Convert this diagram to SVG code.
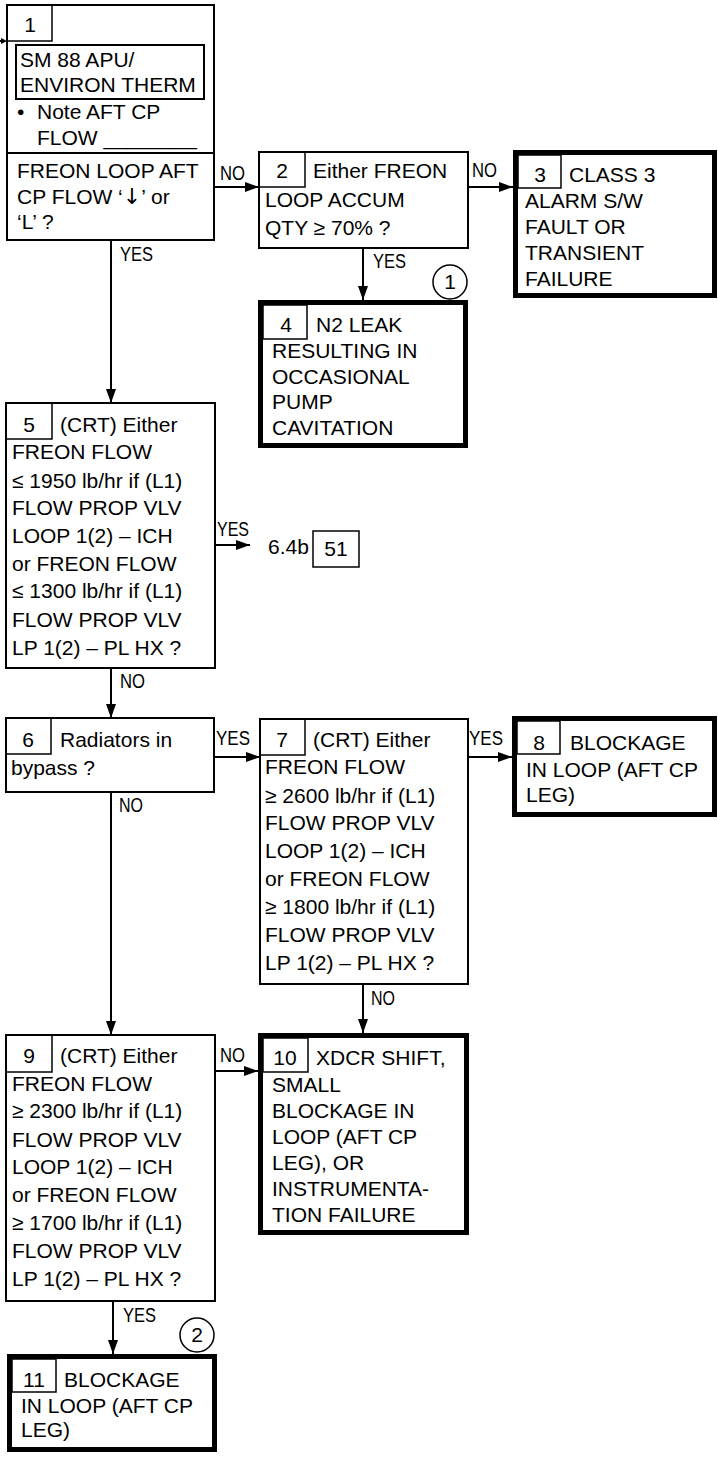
<svg xmlns="http://www.w3.org/2000/svg" width="718" height="1459" viewBox="0 0 718 1459">
<style>
text{font-family:"Liberation Sans",Arial,sans-serif;fill:#000}
.t{font-size:21px}
.n{font-size:21px;text-anchor:middle}
.lbl{font-size:20px}
.box{fill:#fff;stroke:#000;stroke-width:2}
.thick{fill:#fff;stroke:#000;stroke-width:5}
.num{fill:none;stroke:#000;stroke-width:1.5}
.con{stroke:#000;stroke-width:2;fill:none}
.circ{fill:#fff;stroke:#000;stroke-width:1.5}
</style>
<defs>
<marker id="ah" viewBox="0 0 14 10" refX="14" refY="5" markerWidth="14" markerHeight="10" markerUnits="userSpaceOnUse" orient="auto">
<path d="M0,0 L14,5 L0,10 z" fill="#000"/>
</marker>
</defs>
<rect width="718" height="1459" fill="#fff"/>

<g id="connectors">
<line class="con" x1="0" y1="41" x2="3" y2="41"/>
<path d="M1,38 L7,41 L1,44 z" fill="#000"/>
<line class="con" x1="214" y1="187" x2="259" y2="187" marker-end="url(#ah)"/>
<text class="lbl" x="220" y="180" textLength="25" lengthAdjust="spacingAndGlyphs">NO</text>
<line class="con" x1="468" y1="187" x2="513" y2="187" marker-end="url(#ah)"/>
<text class="lbl" x="472" y="177" textLength="25" lengthAdjust="spacingAndGlyphs">NO</text>
<line class="con" x1="363" y1="248" x2="363" y2="300" marker-end="url(#ah)"/>
<text class="lbl" x="373" y="268" textLength="33" lengthAdjust="spacingAndGlyphs">YES</text>
<line class="con" x1="111" y1="240" x2="111" y2="403" marker-end="url(#ah)"/>
<text class="lbl" x="120" y="261" textLength="33" lengthAdjust="spacingAndGlyphs">YES</text>
<line class="con" x1="215" y1="545" x2="250" y2="545" marker-end="url(#ah)"/>
<text class="lbl" x="217" y="536" textLength="32" lengthAdjust="spacingAndGlyphs">YES</text>
<line class="con" x1="111" y1="668" x2="111" y2="718" marker-end="url(#ah)"/>
<text class="lbl" x="120" y="688" textLength="25" lengthAdjust="spacingAndGlyphs">NO</text>
<line class="con" x1="214" y1="757" x2="260" y2="757" marker-end="url(#ah)"/>
<text class="lbl" x="216" y="745" textLength="34" lengthAdjust="spacingAndGlyphs">YES</text>
<line class="con" x1="468" y1="757" x2="512" y2="757" marker-end="url(#ah)"/>
<text class="lbl" x="469" y="745" textLength="34" lengthAdjust="spacingAndGlyphs">YES</text>
<line class="con" x1="111" y1="792" x2="111" y2="1035" marker-end="url(#ah)"/>
<text class="lbl" x="119" y="812" textLength="24" lengthAdjust="spacingAndGlyphs">NO</text>
<line class="con" x1="363" y1="984" x2="363" y2="1033" marker-end="url(#ah)"/>
<text class="lbl" x="371" y="1005" textLength="24" lengthAdjust="spacingAndGlyphs">NO</text>
<line class="con" x1="215" y1="1071" x2="258" y2="1071" marker-end="url(#ah)"/>
<text class="lbl" x="220" y="1062" textLength="25" lengthAdjust="spacingAndGlyphs">NO</text>
<line class="con" x1="113" y1="1301" x2="113" y2="1354" marker-end="url(#ah)"/>
<text class="lbl" x="123" y="1322" textLength="33" lengthAdjust="spacingAndGlyphs">YES</text>
</g>

<g id="node1">
<rect class="box" x="7" y="5" width="207" height="235"/>
<rect class="num" x="7" y="5" width="45" height="36"/>
<text class="n" x="30" y="32">1</text>
<rect class="box" x="16" y="45" width="188" height="54"/>
<text class="t" x="20" y="67">SM 88 APU/</text>
<text class="t" x="20" y="92">ENVIRON THERM</text>
<text class="t" x="17" y="119">•</text>
<text class="t" x="37" y="119">Note AFT CP</text>
<text class="t" x="37" y="145">FLOW ________</text>
<line class="con" x1="7" y1="153" x2="214" y2="153"/>
<text class="t" x="17" y="178">FREON LOOP AFT</text>
<text class="t" x="17" y="204">CP FLOW ‘<tspan style="font-family:'DejaVu Sans',sans-serif;font-size:22px">↓</tspan>’ or</text>
<text class="t" x="17" y="229">‘L’ ?</text>
</g>

<g id="node2">
<rect class="box" x="259" y="152" width="209" height="96"/>
<rect class="num" x="259" y="152" width="46" height="35"/>
<text class="n" x="282" y="178">2</text>
<text class="t" x="313" y="178">Either FREON</text>
<text class="t" x="265" y="207">LOOP ACCUM</text>
<text class="t" x="265" y="235">QTY ≥ 70% ?</text>
</g>

<g id="node3">
<rect class="thick" x="515.5" y="152.5" width="199" height="143"/>
<rect class="num" x="518" y="155" width="43" height="33"/>
<text class="n" x="540" y="182">3</text>
<text class="t" x="569" y="182">CLASS 3</text>
<text class="t" x="525" y="208">ALARM S/W</text>
<text class="t" x="525" y="234">FAULT OR</text>
<text class="t" x="525" y="260">TRANSIENT</text>
<text class="t" x="525" y="286">FAILURE</text>
</g>

<g id="node4">
<rect class="thick" x="260.5" y="302.5" width="205" height="143"/>
<rect class="num" x="263" y="305" width="44" height="34"/>
<text class="n" x="286" y="332">4</text>
<text class="t" x="316" y="332">N2 LEAK</text>
<text class="t" x="272" y="358">RESULTING IN</text>
<text class="t" x="272" y="384">OCCASIONAL</text>
<text class="t" x="272" y="409">PUMP</text>
<text class="t" x="272" y="435">CAVITATION</text>
</g>

<g id="marker1">
<circle class="circ" cx="450" cy="282" r="17"/>
<text class="n" x="450" y="289" style="font-size:21px">1</text>
</g>

<g id="node5">
<rect class="box" x="6" y="403" width="209" height="265"/>
<rect class="num" x="6" y="403" width="46" height="36"/>
<text class="n" x="29" y="432">5</text>
<text class="t" x="60" y="432">(CRT) Either</text>
<text class="t" x="12" y="459">FREON FLOW</text>
<text class="t" x="12" y="488">≤ 1950 lb/hr if (L1)</text>
<text class="t" x="12" y="515">FLOW PROP VLV</text>
<text class="t" x="12" y="543">LOOP 1(2) – ICH</text>
<text class="t" x="12" y="571">or FREON FLOW</text>
<text class="t" x="12" y="598">≤ 1300 lb/hr if (L1)</text>
<text class="t" x="12" y="627">FLOW PROP VLV</text>
<text class="t" x="12" y="655">LP 1(2) – PL HX ?</text>
</g>

<g id="ref51">
<text class="t" x="268" y="554">6.4b</text>
<rect class="num" x="313" y="531" width="46" height="36"/>
<text class="n" x="336" y="556">51</text>
</g>

<g id="node6">
<rect class="box" x="6" y="718" width="208" height="74"/>
<rect class="num" x="6" y="718" width="45" height="36"/>
<text class="n" x="28" y="747">6</text>
<text class="t" x="60" y="747">Radiators in</text>
<text class="t" x="11" y="775">bypass ?</text>
</g>

<g id="node7">
<rect class="box" x="260" y="719" width="208" height="265"/>
<rect class="num" x="260" y="719" width="45" height="36"/>
<text class="n" x="282" y="747">7</text>
<text class="t" x="313" y="747">(CRT) Either</text>
<text class="t" x="265" y="774">FREON FLOW</text>
<text class="t" x="265" y="803">≥ 2600 lb/hr if (L1)</text>
<text class="t" x="265" y="830">FLOW PROP VLV</text>
<text class="t" x="265" y="858">LOOP 1(2) – ICH</text>
<text class="t" x="265" y="886">or FREON FLOW</text>
<text class="t" x="265" y="914">≥ 1800 lb/hr if (L1)</text>
<text class="t" x="265" y="942">FLOW PROP VLV</text>
<text class="t" x="265" y="970">LP 1(2) – PL HX ?</text>
</g>

<g id="node8">
<rect class="thick" x="514.5" y="718.5" width="200" height="96"/>
<rect class="num" x="517" y="721" width="43" height="33"/>
<text class="n" x="539" y="750">8</text>
<text class="t" x="570" y="750">BLOCKAGE</text>
<text class="t" x="526" y="777">IN LOOP (AFT CP</text>
<text class="t" x="526" y="802">LEG)</text>
</g>

<g id="node9">
<rect class="box" x="6" y="1035" width="209" height="266"/>
<rect class="num" x="6" y="1035" width="46" height="37"/>
<text class="n" x="29" y="1063">9</text>
<text class="t" x="60" y="1063">(CRT) Either</text>
<text class="t" x="12" y="1091">FREON FLOW</text>
<text class="t" x="12" y="1118">≥ 2300 lb/hr if (L1)</text>
<text class="t" x="12" y="1147">FLOW PROP VLV</text>
<text class="t" x="12" y="1174">LOOP 1(2) – ICH</text>
<text class="t" x="12" y="1202">or FREON FLOW</text>
<text class="t" x="12" y="1230">≥ 1700 lb/hr if (L1)</text>
<text class="t" x="12" y="1258">FLOW PROP VLV</text>
<text class="t" x="12" y="1286">LP 1(2) – PL HX ?</text>
</g>

<g id="node10">
<rect class="thick" x="260.5" y="1035.5" width="206" height="197"/>
<rect class="num" x="263" y="1038" width="45" height="34"/>
<text class="n" x="285" y="1065">10</text>
<text class="t" x="316" y="1065">XDCR SHIFT,</text>
<text class="t" x="272" y="1092">SMALL</text>
<text class="t" x="272" y="1118">BLOCKAGE IN</text>
<text class="t" x="272" y="1144">LOOP (AFT CP</text>
<text class="t" x="272" y="1170">LEG), OR</text>
<text class="t" x="272" y="1196">INSTRUMENTA-</text>
<text class="t" x="272" y="1222">TION FAILURE</text>
</g>

<g id="marker2">
<circle class="circ" cx="197" cy="1335" r="17"/>
<text class="n" x="197" y="1342" style="font-size:21px">2</text>
</g>

<g id="node11">
<rect class="thick" x="9.5" y="1356.5" width="205" height="93"/>
<rect class="num" x="12" y="1359" width="44" height="33"/>
<text class="n" x="34" y="1387">11</text>
<text class="t" x="64" y="1387">BLOCKAGE</text>
<text class="t" x="21" y="1413">IN LOOP (AFT CP</text>
<text class="t" x="21" y="1437">LEG)</text>
</g>
</svg>
